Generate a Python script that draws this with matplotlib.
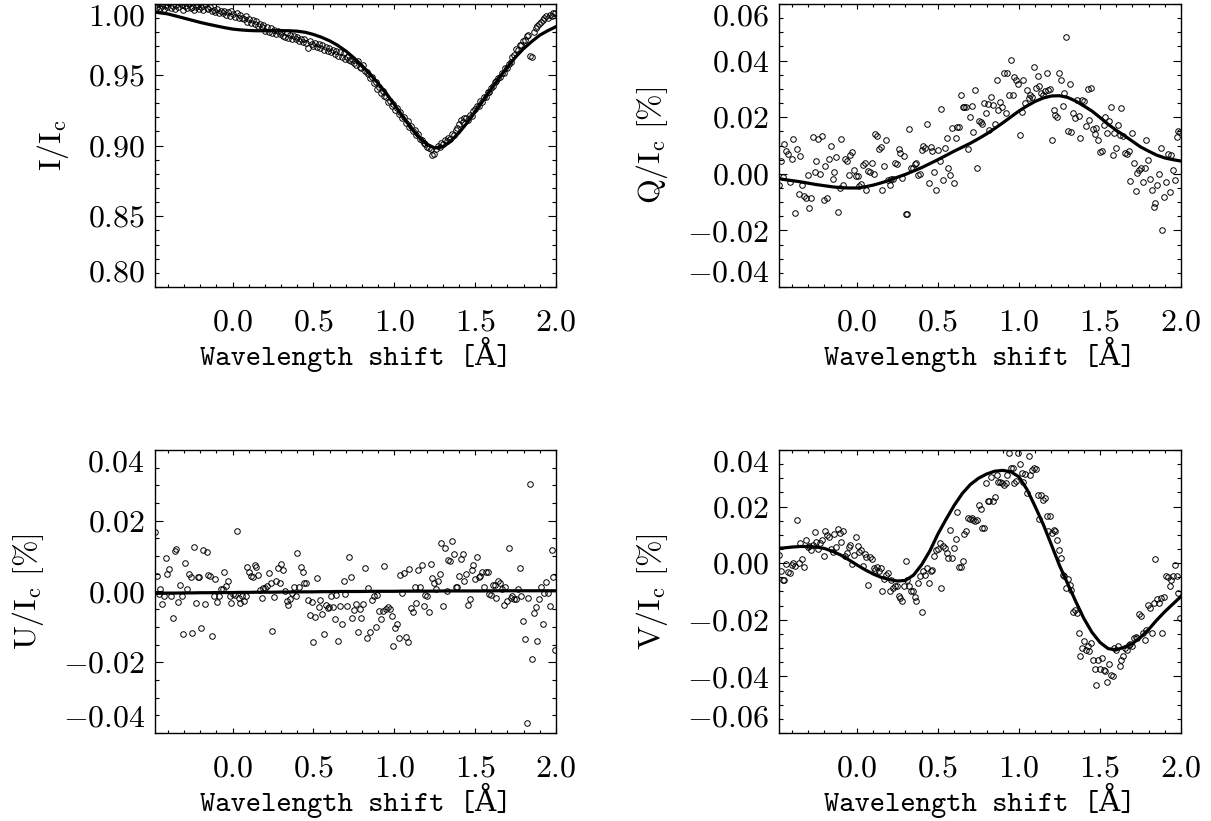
import numpy as np
import matplotlib
matplotlib.use("Agg")
import matplotlib.pyplot as plt
from matplotlib.ticker import MultipleLocator

plt.rcParams["font.family"] = "serif"
plt.rcParams["font.serif"] = ["cmr10"]
plt.rcParams["mathtext.fontset"] = "cm"
plt.rcParams["axes.formatter.use_mathtext"] = True

# wavelength sampling of the observed profiles [A]
wl_start, wl_step, n_obs = -0.48, 0.011, 226
# wavelength sampling of the fitted profiles [A]
fit_start, fit_step, n_fit = -0.50, 0.05, 51

# Stokes I / Ic (observed)
i_obs = [
    0.9990, 0.9978, 1.0003, 0.9975, 0.9985, 0.9962, 0.9992, 0.9980, 1.0008, 0.9971,
    0.9984, 0.9968, 0.9995, 0.9979, 1.0005, 0.9990, 0.9960, 0.9986, 0.9975, 0.9999,
    0.9970, 0.9982, 0.9955, 0.9978, 0.9992, 0.9965, 0.9980, 0.9958, 1.0002, 0.9972,
    0.9962, 0.9980, 0.9950, 0.9958, 0.9945, 0.9965, 0.9940, 0.9952, 0.9935, 0.9948,
    0.9925, 0.9946, 0.9914, 0.9950, 0.9930, 0.9908, 0.9938, 0.9904, 0.9922, 0.9898,
    0.9895, 0.9914, 0.9876, 0.9895, 0.9866, 0.9888, 0.9858, 0.9878, 0.9846, 0.9862,
    0.9838, 0.9852, 0.9812, 0.9835, 0.9800, 0.9828, 0.9795, 0.9818, 0.9788, 0.9808,
    0.9785, 0.9800, 0.9776, 0.9768, 0.9792, 0.9760, 0.9780, 0.9754, 0.9774, 0.9750,
    0.9764, 0.9740, 0.9755, 0.9730, 0.9750, 0.9722, 0.9690, 0.9740, 0.9714, 0.9702,
    0.9725, 0.9696, 0.9715, 0.9686, 0.9708, 0.9678, 0.9698, 0.9670, 0.9690, 0.9664,
    0.9675, 0.9650, 0.9668, 0.9636, 0.9662, 0.9628, 0.9652, 0.9614, 0.9628, 0.9604,
    0.9600, 0.9612, 0.9580, 0.9568, 0.9595, 0.9556, 0.9545, 0.9568, 0.9530, 0.9520,
    0.9505, 0.9475, 0.9482, 0.9440, 0.9452, 0.9400, 0.9412, 0.9372, 0.9385, 0.9350,
    0.9342, 0.9310, 0.9318, 0.9280, 0.9290, 0.9250, 0.9262, 0.9222, 0.9235, 0.9195,
    0.9200, 0.9162, 0.9172, 0.9130, 0.9140, 0.9100, 0.9108, 0.9072, 0.9078, 0.9045,
    0.9042, 0.9015, 0.9010, 0.8988, 0.8982, 0.8975, 0.8932, 0.8940, 0.8972, 0.8995,
    0.8990, 0.9018, 0.9012, 0.9040, 0.9032, 0.9055, 0.9048, 0.9080, 0.9075, 0.9108,
    0.9122, 0.9155, 0.9180, 0.9168, 0.9195, 0.9192, 0.9180, 0.9215, 0.9212, 0.9242,
    0.9255, 0.9280, 0.9282, 0.9312, 0.9310, 0.9340, 0.9342, 0.9375, 0.9378, 0.9410,
    0.9420, 0.9448, 0.9455, 0.9478, 0.9485, 0.9510, 0.9515, 0.9545, 0.9550, 0.9578,
    0.9590, 0.9628, 0.9642, 0.9680, 0.9672, 0.9708, 0.9710, 0.9742, 0.9745, 0.9775,
    0.9780, 0.9630, 0.9625, 0.9800, 0.9830, 0.9845, 0.9860, 0.9872, 0.9890, 0.9900,
    0.9912, 0.9898, 0.9925, 0.9915, 0.9935, 0.9940,
]

# Stokes Q, U, V / Ic (observed), in units of 1e-3
q_obs = [
    -4.0, 4.5, -1.1, 10.5, 8.2, 7.0, -2.8, 5.3, 12.2, -13.7,
    8.9, -7.3, 6.3, -4.1, -7.8, -8.4, -0.5, -12.2, -8.4, 12.9,
    0.6, 4.4, 12.2, 0.1, 13.4, -9.1, 2.7, -8.6, 5.3, 9.9,
    -1.9, 0.8, 5.8, -13.4, -4.9, 12.2, -3.8, 5.1, 4.6, -0.5,
    6.5, 7.6, 1.5, -0.6,
    -0.7, -4.3, -3.7, 3.0, 3.9, -5.6, 1.1, 0.8, 3.9, 0.1,
    14.1, 13.4, 8.9, 9.6, -5.6, 2.7, 11.9, -2.1, -4.0,
    -1.8, -1.7, 3.9, 3.4, 8.9, 7.5, -1.5, 6.2, -14.1, -14.1,
    15.9, 1.9, 2.1, 3.4, 3.9, -0.4, 0.1, 8.3, 9.8, 9.0,
    17.6, -3.1, 9.5, 8.0, 0.5, -5.8, 8.3, 4.6, 22.8,
    -2.2, 9.0, 12.8, 2.2, -0.4, 16.1, -3.2, 12.8, 16.7, 16.7,
    28.0, 23.5, 23.7, 23.5, 8.9, 20.0, 24.1, 14.7, 29.6, 2.2,
    18.8, 18.2, 17.5, 25.2, 21.4, 24.6, 15.6, 27.1, 24.3, 17.6,
    33.1, 22.4, 25.3, 23.5, 35.6, 21.6, 35.8, 27.9, 40.2, 27.9,
    34.1, 33.0, 31.8, 13.8, 22.0, 33.0, 25.0, 29.7, 26.7, 27.9,
    27.0, 37.6, 30.4, 34.7, 30.9, 28.5, 27.9, 29.1, 35.6, 29.7,
    29.9, 11.8, 22.6, 20.8, 20.2, 35.6, 33.2, 23.8, 28.7,
    48.3, 15.1, 31.8, 14.9, 21.4, 19.8, 26.1, 20.5, 12.5, 26.1,
    25.8, 16.9, 30.0, 19.0, 30.5, 15.7, 14.1, 16.2, 11.9, 7.8,
    8.2, 17.3, 20.2, 14.6, 18.5, 23.5, 6.6, 14.6, 9.1, 17.3,
    13.7, 23.2, 13.5, 7.2, 7.0, 8.2, -2.6, 14.6, 3.7, -6.0,
    0.4, 1.3, 2.1, -2.8, 2.1, 11.9, 4.9, -2.0, -5.6, -11.7,
    -10.2, -4.0, 0.1, 9.3, -20.0, -8.2, -2.8, 6.9, -6.4, 6.6,
    1.5, -2.2, 13.1, 15.3, 14.9,
]

u_obs = [
    16.7, 4.4, -0.6, 0.7, -3.4, -1.2, 9.4, 4.9, 6.3, -1.4,
    -7.6, 11.5, 12.0, -3.1, 1.9, -1.2, -11.9, 8.0, 0.8, 4.9,
    4.0, -11.7, 12.6, -3.3, 4.0, 4.0, -10.4, 11.7, -3.6, 11.3,
    4.6, 4.4, -12.5, -1.4, 3.4, -3.1, -1.2, 0.7, 0.7, 5.4,
    1.6, 3.0, -1.4, -3.2, -0.6, -1.0, 17.2, -1.7, -3.3, -1.4,
    -2.6, -1.2, 6.8, 5.4, 4.4, 4.0, 7.5, 7.0, 4.6, 0.4,
    -1.9, 1.1, 0.9, 1.6, 5.2, 2.3, -11.2, -1.5, 3.0, 6.6,
    2.5, 7.7, 6.2, 0.2, -2.6, -3.8, -2.2, -0.4, 1.3, -1.4,
    11.0, 1.3, 7.0, 5.4, 2.5, 2.4, -2.5, -6.6, -2.9, -14.4,
    -7.2, 3.8, -4.5, -2.3, -6.4, -12.1, -3.8, -4.7, -4.3, -1.4,
    -4.5, -7.8, -0.9, -14.0, -4.2, -9.1, 3.0, -0.8, -4.2, 9.8,
    4.2, -7.4, -5.1, -3.4, -11.4, -5.0, -7.5, -3.6, 6.6, -13.2,
    0.9, -11.4, -2.5, -1.2, -9.9, -1.0, -5.5, -7.8, -5.5, 7.2,
    -5.0, -4.3, -5.0, -6.9, -15.4, -10.2, -9.2, -13.2, 4.6, -0.3,
    5.1, -12.8, -14.3, 6.3, -4.7, -5.7, 1.3, -3.3, 6.1, 1.3,
    7.5, -4.2, -0.9, -1.2, -5.9, 7.9, 3.7, 2.3, 0.7, 3.0,
    4.9, 13.6, -4.1, 12.3, 0.0, 8.9, 8.7, 14.3, 10.6, 1.3,
    1.3, 4.3, 9.2, 10.6, 3.0, 4.9, -3.8, -2.2, 6.0, 7.5,
    3.5, 9.8, 4.0, 4.3, 5.4, 1.4, 5.4, 5.4, -0.8, -0.9,
    1.9, 1.9, -1.7, 2.9, 2.5, 0.7, -3.8, 1.3, -2.8, 12.2,
    -1.9, -1.2, -2.2, -2.2, 0.7, 6.6, -1.4, -8.3, -13.4, -37.1,
    -1.7, 30.5, -19.0, -6.1, -4.3, -14.0, -2.0, 1.4, -9.2, -0.3,
    2.7, -0.3, -4.2, 11.8, 4.0, -16.6,
]

v_obs = [
    2.9, -2.9, -5.9, -6.1, -0.4, -3.2, -3.5, -0.6, 0.2, -0.9,
    15.1, 0.2, 7.3, 1.5, -1.5, 8.2, 5.6, 6.1, 4.5,
    6.5, 11.1, 7.6, 5.1, 7.3, 8.2, 2.4, 11.5, 10.0,
    9.4, 4.9, 4.1, 10.4, 5.6, 12.0, 10.8, 7.6, 11.5,
    2.4, 3.5, 5.6, 6.5, -0.2, 2.9, 9.4, 5.9, 3.9,
    4.7, -0.9, 3.3, 2.1, -7.6, 2.1, 1.4, -1.8, -2.4, -1.3,
    -2.6, -1.8, -10.0, -5.6, -4.1, -3.5, -10.0, -5.9, -8.8,
    -8.0, -8.2, -11.5, -12.2, -13.5, -8.2, 0.9, -5.9, -7.9, -10.0,
    -10.0, -11.8, -13.5, -7.1, -4.5, -17.1, -2.9, -4.1, -1.8,
    -7.1, -2.9, -2.4, 2.4, 4.7, 4.9, 7.1, -8.8, 6.1, 5.3,
    3.5, 1.8, 11.8, 1.8, 5.3, 8.7, 18.2, -1.2, -1.5,
    0.6, 10.4, 11.2, 15.9, 15.5, 16.0, 15.3, 14.9, 15.3, 20.6,
    19.1, 12.5, 12.4, 28.2, 22.0, 22.0, 30.6, 21.8, 23.3, 31.2,
    28.8, 28.8, 28.2, 27.6, 28.5, 31.2, 38.8, 33.5, 33.5, 28.2,
    29.1, 38.8, 35.1, 31.8, 28.6, 31.5, 24.7, 37.9, 31.2, 32.9,
    33.5, 33.4, 24.1, 15.5, 24.1, 22.4, 22.9, 16.5, 11.4, 16.7,
    10.6, 11.8, 11.5, 8.2, 4.7, 1.8, -4.1, -4.7, -8.8,
    -5.6, -7.6, -9.4, -17.1, -16.5, -17.6, -24.7, -32.9, -30.0, -27.6,
    -30.6, -29.4, -31.2, -28.2, -34.1, -37.4, -42.9, -34.1, -37.4, -33.5,
    -37.6, -38.2, -41.9, -35.5, -39.4, -39.8, -30.0, -30.6, -29.4, -36.2,
    -34.1, -32.9, -30.0, -30.6, -28.8, -28.5, -29.4, -26.5, -26.2, -26.5,
    -17.9, -18.8, -24.7, -27.1, -23.5, -14.7, -15.9, -24.7, -14.1, 1.4,
    -12.7, -14.1, -12.4, -24.7, -11.8, -4.5, -4.9, -8.2, -5.9, -4.5,
    -0.6, -4.7, -10.6, -19.4,
]

# fitted profiles (I in units of Ic, Q/U/V in 1e-3)
i_fit = [
    0.9945, 0.9938, 0.9930, 0.9915, 0.9900, 0.9885, 0.9870, 0.9857, 0.9845, 0.9833,
    0.9823, 0.9817, 0.9813, 0.9811, 0.9811, 0.9812, 0.9812, 0.9811, 0.9808, 0.9800,
    0.9785, 0.9765, 0.9740, 0.9708, 0.9668, 0.9620, 0.9565, 0.9505, 0.9440, 0.9370,
    0.9290, 0.9210, 0.9130, 0.9060, 0.9010, 0.8983, 0.8990, 0.9030, 0.9090, 0.9160,
    0.9240, 0.9320, 0.9400, 0.9480, 0.9555, 0.9625, 0.9685, 0.9735, 0.9780, 0.9812,
    0.9840,
]
q_fit = [
    -1.5, -2.0, -2.4, -2.8, -3.3, -3.8, -4.2, -4.6, -4.9, -5.0,
    -5.0, -4.6, -4.0, -3.2, -2.3, -1.2, -0.2, 1.0, 2.2, 3.6,
    5.0, 6.5, 8.0, 9.4, 10.8, 12.4, 14.1, 16.0, 18.0, 20.1,
    22.2, 24.0, 25.6, 26.8, 27.5, 27.6, 27.0, 25.7, 24.0, 22.2,
    19.9, 17.5, 15.4, 13.5, 11.5, 9.5, 8.0, 6.6, 5.6, 5.0,
    4.5,
]
u_fit = [
    -0.50, -0.50, -0.45, -0.45, -0.40, -0.40, -0.35, -0.35, -0.30, -0.30,
    -0.30, -0.25, -0.25, -0.20, -0.20, -0.20, -0.15, -0.15, -0.10, -0.10,
    -0.10, -0.05, -0.05, 0.00, 0.00, 0.00, 0.00, 0.05, 0.05, 0.05,
    0.05, 0.10, 0.10, 0.10, 0.10, 0.10, 0.15, 0.15, 0.15, 0.15,
    0.15, 0.15, 0.20, 0.20, 0.20, 0.20, 0.20, 0.20, 0.20, 0.20,
    0.20,
]
v_fit = [
    5.2, 5.4, 5.7, 5.9, 5.9, 5.7, 5.2, 4.2, 2.9, 1.2,
    -0.6, -2.3, -3.8, -5.0, -5.8, -6.3, -6.1, -4.2, -0.5, 4.3,
    10.3, 15.5, 20.4, 24.6, 27.8, 30.0, 31.5, 32.5, 32.8, 32.3,
    30.5, 26.0, 20.0, 13.7, 6.5, -0.8, -7.2, -13.5, -19.5, -24.4,
    -28.0, -30.2, -30.6, -29.7, -28.4, -26.2, -23.4, -20.1, -17.1, -14.4,
    -11.7,
]

x_ticks = [0.0, 0.5, 1.0, 1.5, 2.0]
i_ticks = [0.80, 0.85, 0.90, 0.95, 1.00]
q_ticks = [-0.04, -0.02, 0.00, 0.02, 0.04, 0.06]
u_ticks = [-0.04, -0.02, 0.00, 0.02, 0.04]
v_ticks = [-0.06, -0.04, -0.02, 0.00, 0.02, 0.04]

for arr in (i_obs, q_obs, u_obs, v_obs):
    assert len(arr) == n_obs, len(arr)
for arr in (i_fit, q_fit, u_fit, v_fit):
    assert len(arr) == n_fit, len(arr)

wl_obs = wl_start + wl_step * np.arange(n_obs)
wl_fit = fit_start + fit_step * np.arange(n_fit)

panels = [
    # obs, fit, scale, ticks, minor step, ylabel, axes rect
    (i_obs, i_fit, 1.0, i_ticks, 0.01, r"$\mathrm{I/I_c}$", [0.128, 0.6504, 0.3311, 0.3447]),
    (q_obs, q_fit, 1e-3, q_ticks, 0.005, r"$\mathrm{Q/I_c\ [\%]}$", [0.6433, 0.6504, 0.3320, 0.3447]),
    (u_obs, u_fit, 1e-3, u_ticks, 0.005, r"$\mathrm{U/I_c\ [\%]}$", [0.128, 0.1072, 0.3311, 0.3447]),
    (v_obs, v_fit, 1e-3, v_ticks, 0.005, r"$\mathrm{V/I_c\ [\%]}$", [0.6433, 0.1072, 0.3320, 0.3447]),
]

FS = 23

fig = plt.figure(figsize=(12.11, 8.21), dpi=100)

axes = []
for obs, fit, scale, yt, minor, ylab, rect in panels:
    ax = fig.add_axes(rect)
    ax.plot(wl_obs, np.array(obs) * scale, "o", ms=4.0, mfc="none",
            mec="black", mew=0.7)
    ax.plot(wl_fit, np.array(fit) * scale, "-", color="black", lw=2.3)
    ax.set_xlim(-0.48, 2.0)
    ax.set_ylim(yt[0], yt[-1])
    ax.set_xticks(x_ticks)
    ax.set_yticks(yt)
    ax.xaxis.set_minor_locator(MultipleLocator(0.1))
    ax.yaxis.set_minor_locator(MultipleLocator(minor))
    ax.tick_params(which="both", direction="in", top=True, right=True,
                   width=0.8, labelsize=FS)
    ax.tick_params(axis="x", which="major", length=3.7, pad=16)
    ax.tick_params(axis="x", which="minor", length=2.0)
    ax.tick_params(axis="y", which="major", length=5.5, pad=7)
    ax.tick_params(axis="y", which="minor", length=3.0)
    for sp in ax.spines.values():
        sp.set_linewidth(1.0)
    ax.set_xlabel("Wavelength shift [Å]", fontsize=21,
                  fontfamily=["cmtt10", "DejaVu Serif"])
    ax.xaxis.set_label_coords(0.5, -0.2756)
    ax.xaxis.label.set_va("baseline")
    ax.set_ylabel(ylab, fontsize=FS, labelpad=12)
    axes.append(ax)

fig.canvas.draw()
for ax in axes:
    ylabels = ax.yaxis.get_majorticklabels()
    ylabels[0].set_va("bottom")
    ylabels[-1].set_va("top")

fig.savefig("out.png", dpi=100)
